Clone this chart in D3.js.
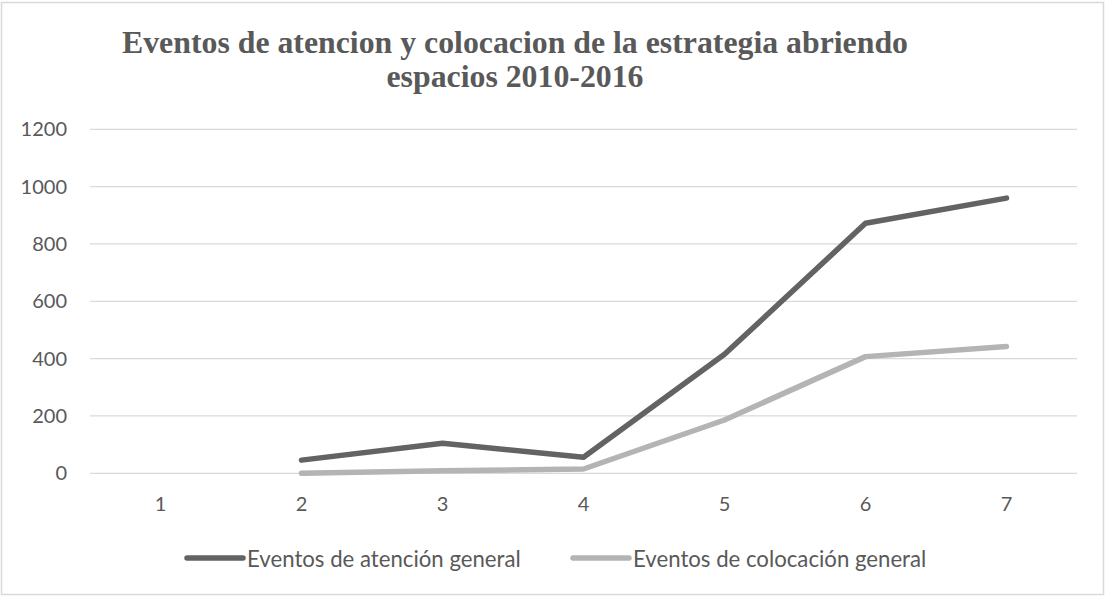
<!DOCTYPE html>
<html><head><meta charset="utf-8">
<script src="https://cdn.jsdelivr.net/npm/d3@7"></script>
<style>html,body{margin:0;padding:0;background:#fff;}svg{display:block;}</style>
</head><body>
<svg id="c" width="1105" height="597"></svg>
<script>
const categories = ["1","2","3","4","5","6","7"];
const atencion = [null, 46, 105, 56, 415, 872, 960];
const colocacion = [null, 0, 9, 15, 186, 407, 442];
const yTicks = [0, 200, 400, 600, 800, 1000, 1200];
const seriesNames = ["Eventos de atención general", "Eventos de colocación general"];
const titleLines = ["Eventos de atencion y colocacion de la estrategia abriendo", "espacios 2010-2016"];

const svg = d3.select("#c");
const W = 1105, H = 597;
const font = "Lato, 'Open Sans', sans-serif";
const txt = "#595959";

svg.append("rect").attr("x", 1.5).attr("y", 2.5).attr("width", W - 3).attr("height", H - 5)
  .attr("fill", "#fff").attr("stroke", "#d9d9d9").attr("stroke-width", 1.5);

const x = d3.scaleBand().domain(categories).range([90, 1077]).padding(0);
const y = d3.scaleLinear().domain([0, 1200]).range([473.3, 129.3]);

// gridlines
svg.append("g").selectAll("line").data(yTicks).join("line")
  .attr("x1", 90).attr("x2", 1077)
  .attr("y1", d => y(d)).attr("y2", d => y(d))
  .attr("stroke", "#d9d9d9").attr("stroke-width", 1.3);

// y axis labels
const yAxis = d3.axisLeft(y).tickValues(yTicks).tickFormat(d3.format("d")).tickSize(0).tickPadding(0);
const gy = svg.append("g").attr("transform", "translate(67,0)").call(yAxis);
gy.select(".domain").remove();
gy.selectAll("text").attr("font-family", font).attr("font-size", 20).attr("fill", txt);

// x axis labels
const xAxis = d3.axisBottom(x).tickSize(0).tickPadding(0);
const gx = svg.append("g").attr("transform", "translate(0,497)").call(xAxis);
gx.select(".domain").remove();
gx.selectAll("text").attr("font-family", font).attr("font-size", 20).attr("fill", txt)
  .attr("dy", "0.71em");

const cx = d => x(d) + x.bandwidth() / 2;
const line = d3.line().defined(d => d.v !== null).x(d => cx(d.c)).y(d => y(d.v));
const series = [
  {name: seriesNames[0], vals: atencion, color: "#636363"},
  {name: seriesNames[1], vals: colocacion, color: "#b4b4b4"}
];
[series[1], series[0]].forEach(s => {
  svg.append("path")
    .datum(categories.map((c, i) => ({c, v: s.vals[i]})))
    .attr("d", line).attr("fill", "none").attr("stroke", s.color)
    .attr("stroke-width", 5.5).attr("stroke-linecap", "round").attr("stroke-linejoin", "round");
});

// title
const t = svg.append("text").attr("font-family", "'Liberation Serif', 'Times New Roman', serif")
  .attr("font-weight", "bold").attr("font-size", 31.8).attr("fill", txt).attr("text-anchor", "middle");
t.append("tspan").attr("x", 515).attr("y", 53.3).text(titleLines[0]);
t.append("tspan").attr("x", 515).attr("y", 86.7).text(titleLines[1]);

// legend
const legX = [187, 573];
series.forEach((s, i) => {
  const g = svg.append("g");
  g.append("line").attr("x1", legX[i]).attr("x2", legX[i] + 56).attr("y1", 558).attr("y2", 558)
    .attr("stroke", s.color).attr("stroke-width", 5.5).attr("stroke-linecap", "round");
  g.append("text").attr("x", legX[i] + 60).attr("y", 566.5)
    .attr("font-family", font).attr("font-size", 22.2).attr("fill", txt).text(s.name);
});
</script>
</body></html>
